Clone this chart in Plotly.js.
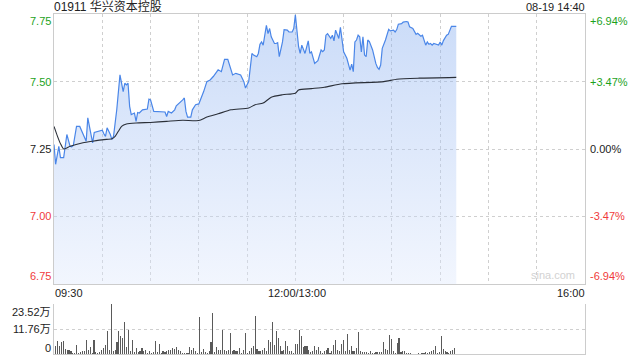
<!DOCTYPE html>
<html>
<head>
<meta charset="utf-8">
<script src="https://cdn.plot.ly/plotly-3.0.1.min.js"></script>
<style>html,body{margin:0;padding:0;background:#fff;}#chart{width:640px;height:360px;}</style>
</head>
<body>
<div id="chart"></div>
<script>
// ---- data (minutes since 09:30, trading time; 150 = 12:00/13:00) ----
const chartTitle = "01911 华兴资本控股";
const stampText = "08-19 14:40";
const prevClose = 7.25;

const times = [0,1,3,4,6,7,8,10,11,12,
  14,16,18,20,21,23,24,25,28,30,
  31,32,33,35,36,37,39,40,41,43,
  44,45,46,47,48,50,51,52,53,55,
  58,59,60,62,66,69,70,71,73,75,
  76,78,80,81,82,83,85,86,88,90,
  91,93,95,97,99,102,104,106,108,109,
  111,113,114,116,118,119,121,122,123,124,
  126,127,128,129,130,132,133,134,135,137,
  138,139,140,142,143,145,146,148,149,150,
  151,152,153,154,156,157,158,159,160,162,
  163,164,166,167,168,169,170,172,173,174,
  175,177,178,179,180,182,183,184,185,186,
  187,188,189,190,191,192,193,194,195,196,
  198,199,200,201,202,203,204,206,207,208,
  209,211,212,213,214,216,217,219,220,221,
  223,224,225,226,228,229,230,231,232,233,
  234,235,236,237,239,240,241,242,244,245,
  246,247,250];
const prices = [7.267,7.193,7.260,7.218,7.218,7.267,7.304,7.260,7.258,7.263,
  7.334,7.334,7.304,7.279,7.366,7.297,7.273,7.312,7.316,7.320,
  7.307,7.297,7.329,7.304,7.285,7.297,7.396,7.470,7.526,7.464,
  7.495,7.489,7.495,7.409,7.378,7.384,7.353,7.386,7.384,7.396,
  7.399,7.436,7.433,7.390,7.390,7.388,7.371,7.390,7.384,7.396,
  7.411,7.421,7.433,7.440,7.390,7.369,7.369,7.396,7.415,7.418,
  7.433,7.464,7.501,7.507,7.520,7.545,7.538,7.584,7.584,7.563,
  7.526,7.532,7.530,7.526,7.501,7.477,7.501,7.569,7.606,7.600,
  7.594,7.606,7.640,7.649,7.637,7.711,7.680,7.699,7.668,7.643,
  7.643,7.646,7.594,7.649,7.695,7.693,7.686,7.686,7.699,7.750,
  7.693,7.631,7.606,7.637,7.606,7.631,7.653,7.606,7.612,7.569,
  7.575,7.579,7.619,7.613,7.619,7.674,7.680,7.662,7.674,7.653,
  7.693,7.662,7.703,7.656,7.612,7.588,7.563,7.544,7.566,7.538,
  7.649,7.656,7.674,7.668,7.612,7.668,7.600,7.594,7.656,7.650,
  7.619,7.588,7.569,7.554,7.547,7.563,7.625,7.656,7.674,7.696,
  7.690,7.693,7.686,7.695,7.715,7.717,7.723,7.725,7.723,7.705,
  7.699,7.686,7.677,7.681,7.670,7.674,7.656,7.637,7.649,7.640,
  7.643,7.637,7.643,7.640,7.637,7.649,7.637,7.654,7.674,7.677,
  7.693,7.707,7.707];

const avgTimes = [0,2,4,6,10,18,24,31,36,38,40,42,45,51,60,70,80,90,95,102,
  110,121,125,130,135,142,150,152,160,168,179,205,213,227,250];
const avgPrices = [7.334,7.30,7.27,7.25,7.26,7.273,7.279,7.285,7.288,7.297,
  7.316,7.334,7.343,7.347,7.349,7.353,7.357,7.356,7.369,7.381,
  7.396,7.403,7.415,7.421,7.443,7.452,7.458,7.470,7.475,7.480,
  7.493,7.501,7.510,7.514,7.517];

// volume in 万 shares, one bar per interval from start to 14:40
const volumes = [3.9,6.0,3.6,5.5,6.3,2.5,2.0,1.7,1.3,0.5,
  0.5,4.4,0.5,0.8,1.6,1.3,6.4,2.0,3.3,0.5,
  6.4,0.8,0.5,0.8,2.0,2.8,4.4,10.7,2.0,23.52,
  1.3,2.0,5.5,10.7,8.3,7.5,14.9,3.3,11.4,1.6,
  6.7,0.8,2.8,0.8,1.6,2.8,1.3,1.7,0.5,1.3,
  0.5,0.8,6.0,0.8,4.9,0.5,1.3,0.8,1.6,2.0,
  2.0,2.8,2.4,3.3,2.0,1.3,0.5,0.5,0.5,0.5,
  3.1,2.0,2.8,1.6,0.5,17.2,0.8,2.4,0.8,0.5,
  1.6,5.5,19.3,0.8,3.3,2.0,1.7,11.1,2.0,1.3,
  2.0,9.9,1.3,2.0,1.3,1.6,2.8,0.5,2.0,9.9,
  0.5,1.3,2.8,3.6,18.0,2.4,1.6,1.3,2.0,2.8,
  1.3,6.7,5.5,14.9,4.4,10.7,7.5,3.6,1.3,2.0,
  6.0,3.9,1.3,1.6,0.5,4.9,4.9,11.4,8.3,3.3,
  3.9,3.6,2.0,0.8,1.6,3.9,2.0,3.1,1.3,0.5,
  1.6,2.0,2.8,0.5,1.3,4.4,6.4,2.0,1.3,4.9,
  6.7,1.3,9.6,2.0,3.9,1.6,1.3,2.8,10.2,1.3,
  0.8,0.8,0.8,0.5,1.4,0.5,0.5,0.8,0.8,0.8,
  0.8,5.5,2.4,2.0,9.1,7.1,1.3,0.5,5.2,7.5,
  0.8,1.3,1.3,0.5,0.5,0.5,0.2,0.2,0.2,0.5,
  0.2,0.5,0.5,0.8,0.5,0.8,1.3,1.7,3.9,0.5,
  0.8,8.6,2.4,1.3,0.8,0.5,1.6,2.0,2.8];
const volStart = 1, volEnd = 249;

const priceTicks = [6.75, 7.00, 7.25, 7.50, 7.75];
const priceLabels = ["6.75", "7.00", "7.25", "7.50", "7.75"];
const pctLabels = ["-6.94%", "-3.47%", "0.00%", "+3.47%", "+6.94%"];
const timeTickVals = [0, 150, 330];
const timeTickLabels = ["09:30", "12:00/13:00", "16:00"];
const gridTimes = [30,60,90,120,150,180,210,240,270,300];
const volTicks = [0, 11.76, 23.52];
const volLabels = ["0", "11.76万", "23.52万"];

// ---- build ----
const volX = volumes.map((v, i) => volStart + i * (volEnd - volStart) / (volumes.length - 1));
const GREEN = '#1ca21c', RED = '#f03b3b', DARK = '#222';
function tickColor(v) { return v > prevClose + 1e-9 ? GREEN : (v < prevClose - 1e-9 ? RED : DARK); }

const traces = [
  {
    x: times, y: prices, xaxis: 'x', yaxis: 'y', type: 'scatter', mode: 'lines',
    line: {color: '#4a86e8', width: 1.2},
    fill: 'tozeroy',
    fillgradient: {type: 'vertical', start: 6.75, stop: 7.75,
      colorscale: [[0, 'rgba(222,232,252,0.4)'], [1, 'rgba(125,167,238,0.4)']]},
    hoverinfo: 'skip'
  },
  {
    x: avgTimes, y: avgPrices, xaxis: 'x', yaxis: 'y', type: 'scatter', mode: 'lines',
    line: {color: '#2a2f38', width: 1.1, shape: 'spline', smoothing: 0.6},
    hoverinfo: 'skip'
  },
  {
    x: volX, y: volumes, xaxis: 'x2', yaxis: 'y2', type: 'bar',
    width: 0.7, marker: {color: '#5a5a5a', line: {width: 0}},
    hoverinfo: 'skip'
  }
];

const ann = [];
const edgeShift = {6.75: 7, 7.75: -6};
priceTicks.forEach((v, i) => {
  const ys = edgeShift[v] || 0;
  ann.push({xref: 'paper', yref: 'y', x: 0, y: v, xanchor: 'right', yanchor: 'middle',
    xshift: -1, yshift: ys, showarrow: false, text: priceLabels[i],
    font: {size: 11, color: tickColor(v)}});
  ann.push({xref: 'paper', yref: 'y', x: 1, y: v, xanchor: 'left', yanchor: 'middle',
    xshift: 3, yshift: ys, showarrow: false, text: pctLabels[i],
    font: {size: 11, color: tickColor(v)}});
});
const volShift = [6, 0, -8];
volTicks.forEach((v, i) => {
  ann.push({xref: 'paper', yref: 'y2', x: 0, y: v, xanchor: 'right', yanchor: 'middle',
    xshift: -1, yshift: volShift[i], showarrow: false, text: volLabels[i],
    font: {size: 11, color: DARK}});
});
const xAnch = ['left', 'center', 'right'];
timeTickVals.forEach((v, i) => {
  ann.push({xref: 'x', yref: 'paper', x: v, y: 0.179, xanchor: xAnch[i], yanchor: 'middle',
    xshift: i === 0 ? -1 : 2, showarrow: false, text: timeTickLabels[i],
    font: {size: 11, color: DARK}});
});
ann.push({xref: 'paper', yref: 'paper', x: 0, y: 1.0206, xanchor: 'left', yanchor: 'middle',
  xshift: -2, showarrow: false, text: chartTitle,
  font: {size: 12, color: DARK, family: '"Liberation Sans", "Noto Sans CJK SC", sans-serif'}});
ann.push({xref: 'paper', yref: 'paper', x: 1, y: 1.0206, xanchor: 'right', yanchor: 'middle',
  xshift: 2, showarrow: false, text: stampText, font: {size: 11, color: DARK}});
ann.push({xref: 'paper', yref: 'y', x: 0.985, y: 6.75, xanchor: 'right', yanchor: 'bottom',
  yshift: 0, showarrow: false, text: 'sina.com', font: {size: 11, color: '#d2d2d2'}});

const layout = {
  width: 640, height: 360,
  margin: {l: 54, r: 55, t: 14, b: 6, pad: 0},
  paper_bgcolor: '#ffffff', plot_bgcolor: '#ffffff',
  showlegend: false,
  font: {family: '"Liberation Sans", Arial, "Noto Sans CJK SC", sans-serif', size: 11, color: DARK},
  bargap: 0,
  xaxis: {domain: [0, 1], range: [0, 330], anchor: 'y', tickvals: gridTimes, showticklabels: false,
    ticks: '', showgrid: true, gridcolor: '#cfcfcf', griddash: 'dot', gridwidth: 1,
    showline: true, mirror: true, linecolor: '#cccccc', linewidth: 1, zeroline: false, fixedrange: true},
  yaxis: {domain: [0.2059, 1], range: [6.747, 7.753], tickvals: [7.0, 7.25, 7.5], showticklabels: false,
    ticks: '', showgrid: true, gridcolor: '#cfcfcf', griddash: 'dot', gridwidth: 1,
    showline: true, mirror: true, linecolor: '#cccccc', linewidth: 1, zeroline: false, fixedrange: true},
  xaxis2: {domain: [0, 1], range: [0, 330], anchor: 'y2', showticklabels: false, ticks: '',
    showgrid: false, showline: true, linecolor: '#cccccc', linewidth: 1, zeroline: false, fixedrange: true},
  yaxis2: {domain: [0, 0.147], range: [0, 23.52], anchor: 'x2', tickvals: [11.76, 23.52], showticklabels: false,
    ticks: '', showgrid: true, gridcolor: '#cfcfcf', griddash: 'dot', gridwidth: 1,
    showline: true, mirror: true, linecolor: '#cccccc', linewidth: 1, zeroline: false, fixedrange: true},
  annotations: ann
};

Plotly.newPlot('chart', traces, layout, {staticPlot: true, displayModeBar: false});
</script>
</body>
</html>
